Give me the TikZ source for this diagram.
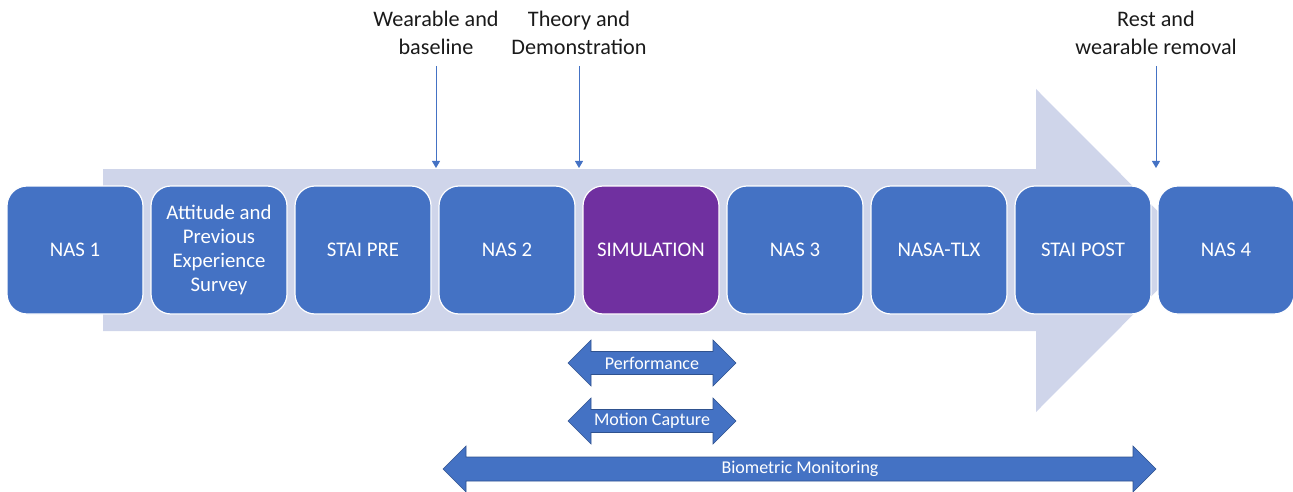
\documentclass[tikz,border=0pt]{standalone}
\usepackage{fontspec}
\setmainfont{Carlito}
\usetikzlibrary{arrows.meta}
\definecolor{boxblue}{HTML}{4472C4}
\definecolor{simpurple}{HTML}{7030A0}
\definecolor{flowgrey}{HTML}{CFD5EA}
\definecolor{edgeblue}{HTML}{2F528F}
\definecolor{labelink}{HTML}{1A1A1A}

\begin{document}
\begin{tikzpicture}[x=1pt,y=-1pt,
  stagebox/.style={rounded corners=20pt, draw=white, line width=1.2pt, fill=boxblue,
    minimum width=136pt, minimum height=128pt, text=white, align=center,
    font=\fontsize{20.8}{23.8}\selectfont, inner sep=0pt},
  toplabel/.style={align=center, anchor=south, inner sep=0pt, text depth=11.5pt,
    text=labelink, font=\fontsize{22.2}{28}\selectfont},
  marker/.style={draw=boxblue, line width=0.9pt, -{Triangle[width=8pt,length=7pt]}},
  spanarrow/.style={fill=boxblue, draw=edgeblue, line width=0.6pt},
  spanlabel/.style={text=white, font=\fontsize{18}{21}\selectfont, inner sep=0pt}]

\useasboundingbox (0,0) rectangle (1293,492);

% broad background arrow showing the flow of the session
\fill[flowgrey] (103,169) -- (1036,169) -- (1036,89) -- (1197,250.5)
  -- (1036,412) -- (1036,331) -- (103,331) -- cycle;

% session stages
\node[stagebox] (s1) at (75,250) {NAS 1};
\node[stagebox] (s2) at (219,250) {Attitude and\\Previous\\Experience\\Survey};
\node[stagebox] (s3) at (363,250) {STAI PRE};
\node[stagebox] (s4) at (507,250) {NAS 2};
\node[stagebox, fill=simpurple] (s5) at (651,250) {SIMULATION};
\node[stagebox] (s6) at (795,250) {NAS 3};
\node[stagebox] (s7) at (939,250) {NASA-TLX};
\node[stagebox] (s8) at (1083,250) {STAI POST};
\node[stagebox] (s9) at (1226,250) {NAS 4};

% events marked between stages
\node[toplabel] (e1) at (436,66) {Wearable and\\baseline};
\node[toplabel] (e2) at (579,66) {Theory and\\Demonstration};
\node[toplabel] (e3) at (1156,66) {Rest and\\wearable removal};
\coordinate (m1) at (436,168);
\coordinate (m2) at (579,168);
\coordinate (m3) at (1156,168);
\draw[marker] (e1.south) -- (m1);
\draw[marker] (e2.south) -- (m2);
\draw[marker] (e3.south) -- (m3);

% measurement spans (double-headed block arrows)
\newcommand\spanshape[4]{% left tip x, right tip x, centre y, half shaft
  \filldraw[spanarrow] (#1,#3) -- (#1+23,#3-23) -- (#1+23,#3-#4) -- (#2-23,#3-#4)
    -- (#2-23,#3-23) -- (#2,#3) -- (#2-23,#3+23) -- (#2-23,#3+#4)
    -- (#1+23,#3+#4) -- (#1+23,#3+23) -- cycle;}
\spanshape{568}{736}{363}{11.5}
\spanshape{568}{736}{421}{11.5}
\spanshape{443}{1156}{469}{12}
\node[spanlabel] (p1) at (652,363) {Performance};
\node[spanlabel] (p2) at (652,421) {Motion Capture};
\node[spanlabel] (p3) at (800,469) {Biometric Monitoring};
\end{tikzpicture}
\end{document}
